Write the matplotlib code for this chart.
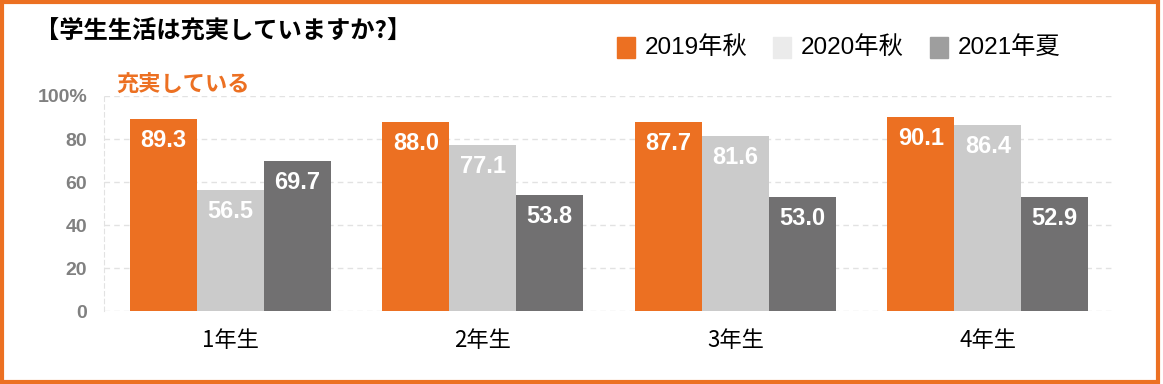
import matplotlib.pyplot as plt
import numpy as np
from matplotlib.patches import Rectangle

plt.rcParams['font.family'] = ['Noto Sans CJK JP', 'DejaVu Sans']

categories = ['1年生', '2年生', '3年生', '4年生']
series_names = ['2019年秋', '2020年秋', '2021年夏']
v2019 = [89.3, 88.0, 87.7, 90.1]
v2020 = [56.5, 77.1, 81.6, 86.4]
v2021 = [69.7, 53.8, 53.0, 52.9]
yticks = [0, 20, 40, 60, 80, 100]
ytick_labels = ['0', '20', '40', '60', '80', '100%']

bar_colors = ['#ec7022', '#cbcbcb', '#717071']
legend_colors = ['#ec7022', '#ebebeb', '#9e9e9e']
latin = ['Liberation Sans', 'Noto Sans CJK JP']

fig = plt.figure(figsize=(11.63, 3.84), dpi=100)
ax = fig.add_axes([0.0894, 0.19, 0.8686, 0.56])

x = np.arange(len(categories))
w = 0.265
for i, vals in enumerate([v2019, v2020, v2021]):
    pos = x + (i - 1) * w
    ax.bar(pos, vals, width=w, color=bar_colors[i], zorder=3)
    for p, v in zip(pos, vals):
        ax.text(p, v - 10, f'{v:.1f}', ha='center', va='center', color='white',
                fontsize=17, fontweight='bold', family=latin, zorder=4)

ax.set_xlim(-0.5, 3.5)
ax.set_ylim(0, 100)
ax.set_yticks(yticks)
ax.set_yticklabels(ytick_labels, fontsize=14, fontweight='bold',
                   color='#808080', family=latin)
ax.set_xticks(x)
ax.set_xticklabels(categories, fontsize=16)
ax.tick_params(axis='both', length=0)
ax.tick_params(axis='y', pad=12)
ax.tick_params(axis='x', pad=13)
ax.grid(axis='y', color='#e2e2e2', linestyle=(0, (4, 3)), linewidth=1, zorder=0)
for s in ['top', 'right', 'bottom']:
    ax.spines[s].set_visible(False)
ax.spines['left'].set_color('#e2e2e2')
ax.spines['left'].set_linestyle((0, (4, 3)))

fig.text(0.03, 0.917, '【学生生活は充実していますか?】', fontsize=17.5,
         fontweight='bold', va='center')
fig.text(0.1, 0.779, '充実している', fontsize=16, fontweight='bold',
         color='#ec7022', va='center')

# legend
lx = [0.5305, 0.6647, 0.7997]
for c, name, px in zip(legend_colors, series_names, lx):
    fig.patches.append(Rectangle((px, 0.849), 0.0155, 0.055, color=c,
                                 transform=fig.transFigure))
    fig.text(px + 0.024, 0.876, name, fontsize=17.5, va='center', family=latin)

fig.patches.append(Rectangle((0.002, 0.005), 0.994, 0.99, fill=False,
                             edgecolor='#ec7022', linewidth=3,
                             transform=fig.transFigure))

fig.savefig('out.png', dpi=100)
